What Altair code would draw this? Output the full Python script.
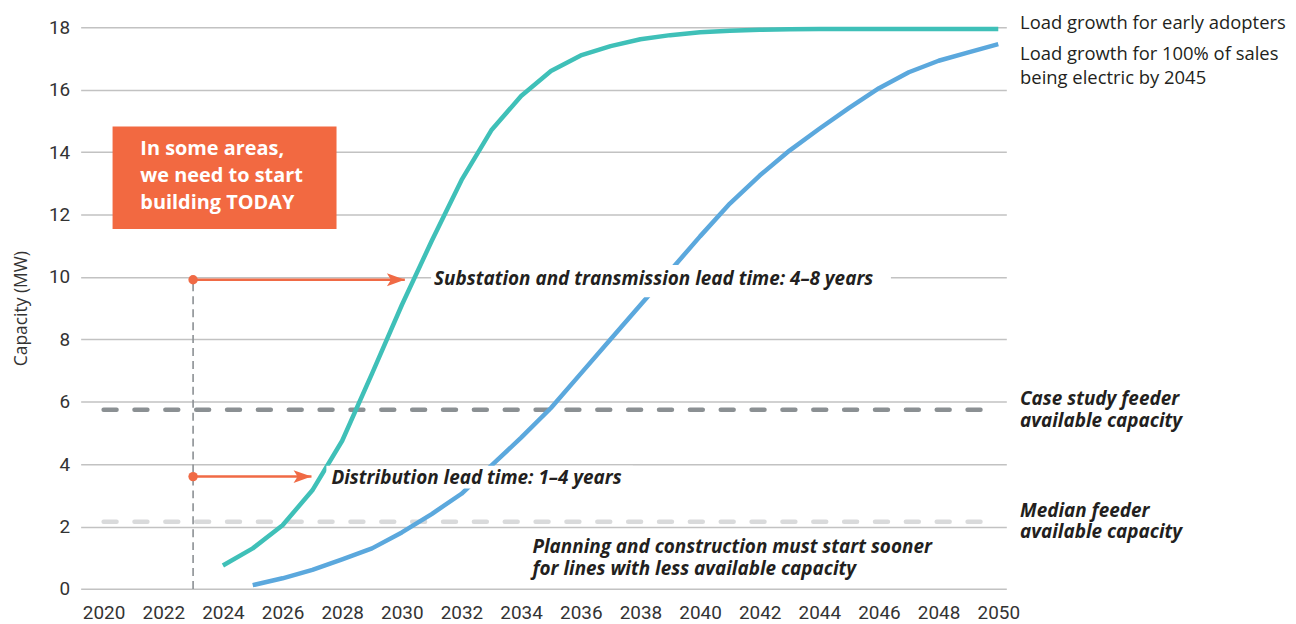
import altair as alt
import pandas as pd

# ---------------- data ----------------
years_early = list(range(2024, 2051))
load_early = [0.75, 1.3, 2.04, 3.16, 4.75, 6.9, 9.1, 11.15, 13.1, 14.7, 15.8, 16.6, 17.1,
              17.4, 17.62, 17.75, 17.84, 17.89, 17.92, 17.94, 17.95, 17.95, 17.95, 17.95,
              17.95, 17.95, 17.95]
years_full = list(range(2025, 2051))
load_full = [0.12, 0.34, 0.61, 0.95, 1.3, 1.81, 2.4, 3.05, 3.95, 4.85, 5.8, 6.9, 8.0, 9.1,
             10.2, 11.3, 12.35, 13.25, 14.05, 14.75, 15.42, 16.05, 16.56, 16.93, 17.2, 17.46]

capacity_names = ["Case study", "Median"]
capacity_values = [5.74, 2.15]
capacity_colors = ["#8b9093", "#d9dadb"]

lead_names = ["Distribution", "Substation"]
lead_start = [2023.0, 2023.0]
lead_end = [2026.97, 2030.1]
lead_level = [3.6, 9.91]

x_ticks = list(range(2020, 2051, 2))
y_ticks = list(range(0, 19, 2))

FONT = "Roboto"
FONT2 = "Open Sans"
TEXT = "#231f20"
ORANGE = "#f06a45"

# ---------------- frames ----------------
df_early = pd.DataFrame({"x": years_early, "y": load_early})
df_full = pd.DataFrame({"x": years_full, "y": load_full})
df_cap = pd.DataFrame({"name": capacity_names, "y": capacity_values,
                       "x": [2020] * 2, "x2": [2050] * 2})
df_lead = pd.DataFrame({"name": lead_names, "x": lead_start, "x2": lead_end, "y": lead_level})

xs = alt.Scale(domain=[2019.23, 2050.27], nice=False, zero=False)
ys = alt.Scale(domain=[0, 18], nice=False)
xaxis = alt.Axis(values=x_ticks, format="d", title=None, labelPadding=15, grid=False)
yaxis = alt.Axis(values=y_ticks, title="Capacity (MW)", labelPadding=11, titlePadding=18,
                 grid=True)


def X(field="x"):
    return alt.X(f"{field}:Q", scale=xs, axis=xaxis)


def Y(field="y"):
    return alt.Y(f"{field}:Q", scale=ys, axis=yaxis)


# capacity dashed lines
cap_case = alt.Chart(df_cap[df_cap.name == "Case study"]).mark_rule(
    strokeWidth=4.5, strokeDash=[13, 18], strokeCap="round", color=capacity_colors[0]
).encode(x=X(), x2="x2:Q", y=Y())
cap_med = alt.Chart(df_cap[df_cap.name == "Median"]).mark_rule(
    strokeWidth=4.5, strokeDash=[13, 18], strokeCap="round", color=capacity_colors[1]
).encode(x=X(), x2="x2:Q", y=Y())

# today vertical dashed
vline = alt.Chart(df_lead[df_lead.name == "Substation"]).mark_rule(
    strokeWidth=1.6, strokeDash=[8, 5], color="#8b9093"
).encode(x=X(), y=alt.Y("y0:Q", scale=ys, axis=yaxis), y2="y:Q").transform_calculate(y0="0")

line_early = alt.Chart(df_early).mark_line(
    strokeWidth=4.5, color="#3fc0b8", strokeJoin="round"
).encode(x=X(), y=Y())
line_full = alt.Chart(df_full).mark_line(
    strokeWidth=4.5, color="#5ba8dd", strokeJoin="round"
).encode(x=X(), y=Y())

# white backgrounds behind the lead-time labels
df_mask = pd.DataFrame({"x": [2030.98, 2027.47], "x2": [2046.4, 2037.75],
                        "y": [9.35, 3.22], "y2": [10.38, 3.95]})
mask = alt.Chart(df_mask).mark_rect(color="white").encode(x=X(), x2="x2:Q", y=Y(), y2="y2:Q")

df_box = pd.DataFrame({"x": [2020.3], "x2": [2027.81], "y": [11.54], "y2": [14.82]})
box = alt.Chart(df_box).mark_rect(color="#f26941").encode(x=X(), x2="x2:Q", y=Y(), y2="y2:Q")

box_lines = ["In some areas,", "we need to start", "building TODAY"]
df_box_text = pd.DataFrame({"t": box_lines, "x": [2021.23] * 3, "y": [14.09, 13.23, 12.37]})
box_text = alt.Chart(df_box_text).mark_text(
    align="left", baseline="middle", font=FONT2, fontSize=20, fontWeight="bold", color="white"
).encode(x=X(), y=Y(), text="t:N")

arrows = alt.Chart(df_lead).mark_rule(strokeWidth=2.5, color=ORANGE).encode(
    x=X(), x2=alt.X2("x2:Q"), y=Y())
arrow_heads = alt.Chart(df_lead).mark_point(
    shape="M-2,-0.72 L0,0 L-2,0.72 L-1.55,0 Z", size=324, filled=True, opacity=1,
    color=ORANGE
).encode(x=X("x2"), y=Y())
dots = alt.Chart(df_lead).mark_circle(size=90, color=ORANGE, opacity=1).encode(x=X(), y=Y())

ann_text = [
    "Substation and transmission lead time: 4\u20138 years",
    "Distribution lead time: 1\u20134 years",
    "Planning and construction must start sooner",
    "for lines with less available capacity",
]
df_ann = pd.DataFrame({"t": ann_text, "x": [2031.08, 2027.64, 2034.38, 2034.38],
                       "y": [9.94, 3.57, 1.33, 0.63]})
ann = alt.Chart(df_ann).mark_text(
    align="left", baseline="middle", font=FONT2, fontSize=19, fontWeight="bold",
    fontStyle="italic", color=TEXT
).encode(x=X(), y=Y(), text="t:N")

legend_text = ["Load growth for early adopters", "Load growth for 100% of sales",
               "being electric by 2045"]
df_leg = pd.DataFrame({"t": legend_text, "x": [2050.73] * 3, "y": [18.13, 17.15, 16.39]})
leg = alt.Chart(df_leg).mark_text(
    align="left", baseline="middle", font=FONT2, fontSize=18.5, color=TEXT
).encode(x=X(), y=Y(), text="t:N")

cap_text = ["Case study feeder", "available capacity", "Median feeder", "available capacity"]
df_capt = pd.DataFrame({"t": cap_text, "x": [2050.73] * 4, "y": [6.08, 5.38, 2.51, 1.81]})
capt = alt.Chart(df_capt).mark_text(
    align="left", baseline="middle", font=FONT2, fontSize=19, fontWeight="bold",
    fontStyle="italic", color=TEXT
).encode(x=X(), y=Y(), text="t:N")

chart = alt.layer(
    cap_med, cap_case, vline, line_early, line_full, mask, box, box_text,
    arrows, arrow_heads, dots, ann, leg, capt
).properties(
    width=930, height=564.2,
    autosize=alt.AutoSizeParams(type="none"),
    padding={"left": 73, "top": 18, "right": 283, "bottom": 33.5},
).configure_view(stroke=None).configure_axis(
    domain=False, ticks=False, gridColor="#c2c2c2", gridWidth=1.5,
    labelFont=FONT, labelFontSize=19, labelColor="#333333",
    titleFont=FONT2, titleFontSize=17.5, titleFontWeight="normal", titleColor="#333333",
)

chart.save("out.html", embed_options={"renderer": "svg", "actions": False})
